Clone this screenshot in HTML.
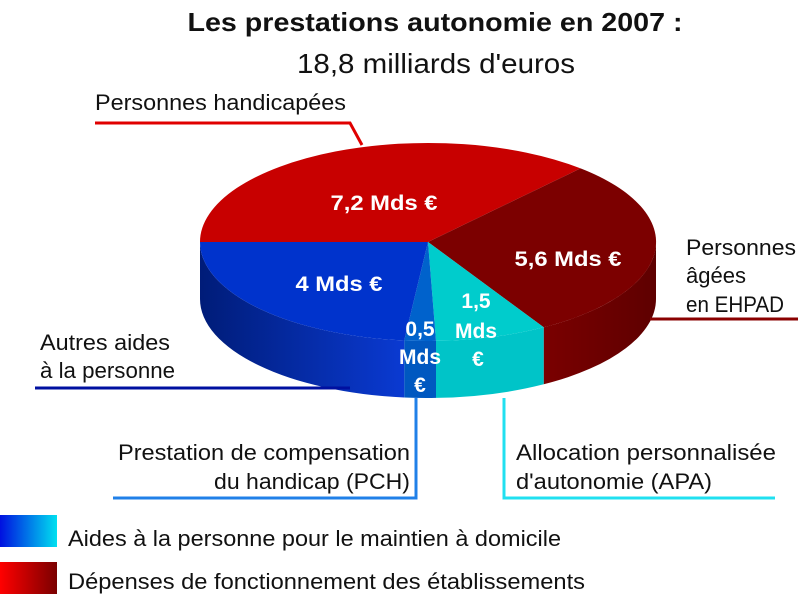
<!DOCTYPE html>
<html><head><meta charset="utf-8"><style>
html,body{margin:0;padding:0;background:#fff;}
svg{display:block;}
text{font-family:"Liberation Sans Narrow","Liberation Sans",sans-serif;}
</style></head><body>
<svg width="800" height="599" viewBox="0 0 800 599" xmlns="http://www.w3.org/2000/svg">
<defs>
<linearGradient id="bs" x1="0" x2="1" y1="0" y2="0"><stop offset="0" stop-color="#001c78"/><stop offset="1" stop-color="#0a3ad2"/></linearGradient>
<linearGradient id="ds" x1="0" x2="1" y1="0" y2="0"><stop offset="0" stop-color="#7a0000"/><stop offset="1" stop-color="#5e0000"/></linearGradient>
<linearGradient id="lb" x1="0" x2="1"><stop offset="0" stop-color="#0010e0"/><stop offset="1" stop-color="#00e0f0"/></linearGradient>
<linearGradient id="lr" x1="0" x2="1"><stop offset="0" stop-color="#ff0000"/><stop offset="1" stop-color="#7a0000"/></linearGradient>
</defs>
<text x="435" y="31" text-anchor="middle" font-size="26" font-weight="bold" textLength="495" lengthAdjust="spacingAndGlyphs" fill="#111">Les prestations autonomie en 2007 :</text>
<text x="436" y="73" text-anchor="middle" font-size="28" textLength="278" lengthAdjust="spacingAndGlyphs" fill="#111">18,8 milliards d'euros</text>
<text x="95" y="110" font-size="22" textLength="251" lengthAdjust="spacingAndGlyphs" fill="#111">Personnes handicapées</text>
<polyline points="95,123 350,123 362,145" fill="none" stroke="#e00000" stroke-width="3"/>

<path d="M656,242 A228,99 0 0 1 543.7,327.3 L543.7,384.3 A228,99 0 0 0 656,299 Z" fill="url(#ds)"/>
<path d="M543.7,327.3 A228,99 0 0 1 436,340.9 L436,397.9 A228,99 0 0 0 543.7,384.3 Z" fill="#00c4c8"/>
<path d="M436,340.9 A228,99 0 0 1 404.2,340.5 L404.2,397.5 A228,99 0 0 0 436,397.9 Z" fill="#0058c0"/>
<path d="M404.2,340.5 A228,99 0 0 1 200,242 L200,299 A228,99 0 0 0 404.2,397.5 Z" fill="url(#bs)"/>
<path d="M428,242 L200,242 A228,99 0 0 1 580.6,168.4 Z" fill="#c80000"/>
<path d="M428,242 L580.6,168.4 A228,99 0 0 1 543.7,327.3 Z" fill="#7c0000"/>
<path d="M428,242 L543.7,327.3 A228,99 0 0 1 436,340.9 Z" fill="#00cccc"/>
<path d="M428,242 L436,340.9 A228,99 0 0 1 404.2,340.5 Z" fill="#0062cc"/>
<path d="M428,242 L404.2,340.5 A228,99 0 0 1 200,242 Z" fill="#0033cc"/>

<g fill="#fff" font-weight="bold" font-size="21" text-anchor="middle">
<text x="384" y="210" textLength="107" lengthAdjust="spacingAndGlyphs">7,2 Mds €</text>
<text x="568" y="266" textLength="107" lengthAdjust="spacingAndGlyphs">5,6 Mds €</text>
<text x="339" y="291" textLength="87" lengthAdjust="spacingAndGlyphs">4 Mds €</text>
<text x="476" y="308">1,5</text><text x="476" y="338">Mds</text><text x="478" y="366">€</text>
<text x="420" y="336">0,5</text><text x="420" y="364">Mds</text><text x="420" y="392">€</text>
</g>

<g font-size="22" fill="#111">
<text x="686" y="255" textLength="110" lengthAdjust="spacingAndGlyphs">Personnes</text>
<text x="686" y="283" textLength="60" lengthAdjust="spacingAndGlyphs">âgées</text>
<text x="686" y="312" textLength="98" lengthAdjust="spacingAndGlyphs">en EHPAD</text>
<text x="40" y="350" textLength="130" lengthAdjust="spacingAndGlyphs">Autres aides</text>
<text x="40" y="378" textLength="135" lengthAdjust="spacingAndGlyphs">à la personne</text>
<text x="410" y="460" text-anchor="end" textLength="292" lengthAdjust="spacingAndGlyphs">Prestation de compensation</text>
<text x="410" y="489" text-anchor="end" textLength="196" lengthAdjust="spacingAndGlyphs">du handicap (PCH)</text>
<text x="516" y="460" textLength="260" lengthAdjust="spacingAndGlyphs">Allocation personnalisée</text>
<text x="516" y="489" textLength="196" lengthAdjust="spacingAndGlyphs">d'autonomie (APA)</text>
<text x="68" y="546" textLength="493" lengthAdjust="spacingAndGlyphs">Aides à la personne pour le maintien à domicile</text>
<text x="68" y="589" textLength="517" lengthAdjust="spacingAndGlyphs">Dépenses de fonctionnement des établissements</text>
</g>
<line x1="650" y1="319" x2="798" y2="319" stroke="#8a0000" stroke-width="3"/>
<line x1="35" y1="388" x2="350" y2="388" stroke="#0010a0" stroke-width="3"/>
<polyline points="113,498 416,498 416,398" fill="none" stroke="#2080e8" stroke-width="3"/>
<polyline points="775,498 504,498 504,398" fill="none" stroke="#20e0f0" stroke-width="3"/>
<rect x="0" y="515" width="57" height="32" fill="url(#lb)"/>
<rect x="0" y="562" width="57" height="32" fill="url(#lr)"/>
</svg>
</body></html>
